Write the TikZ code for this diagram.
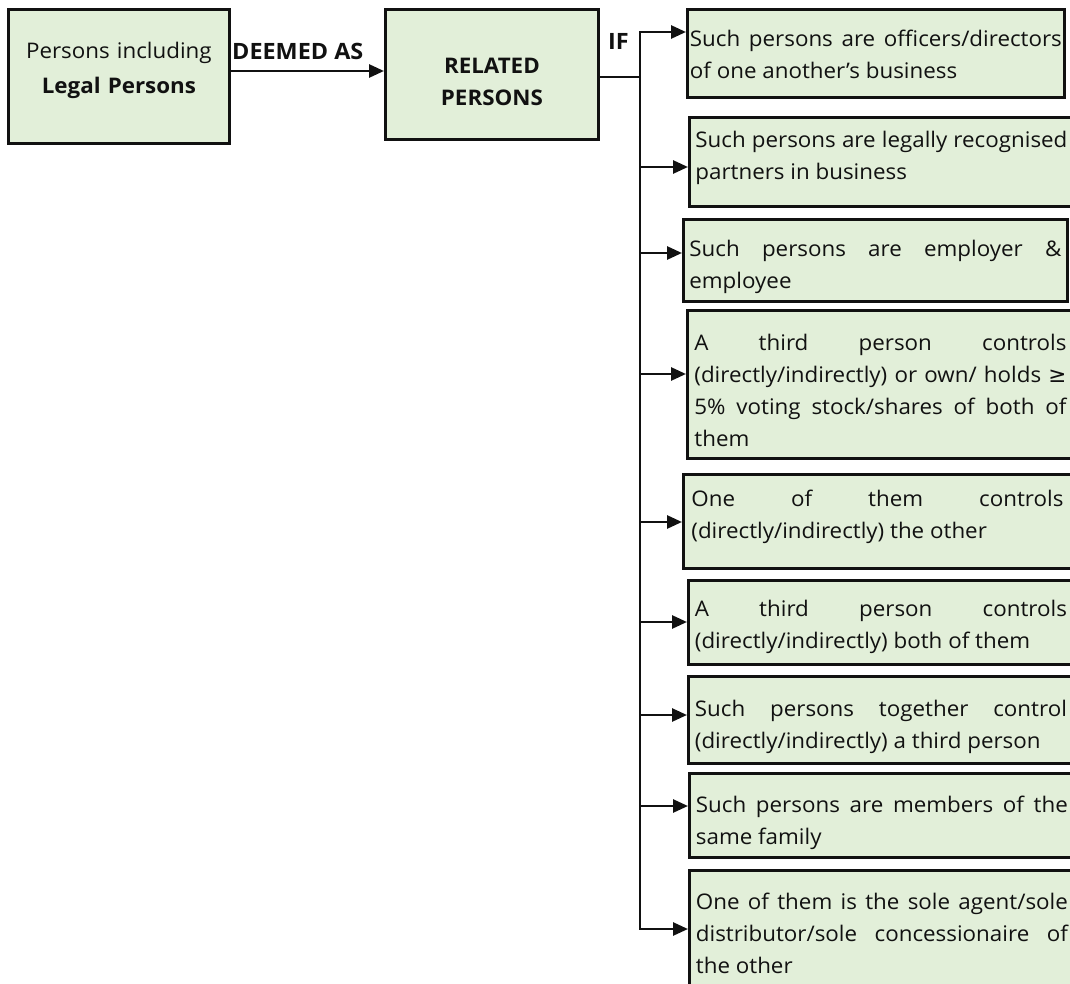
\documentclass[tikz,border=0pt]{standalone}
\usepackage{fontspec}
\setmainfont{Open Sans}[FakeStretch=1.04]
\newfontfamily\symfont{DejaVu Sans}
\usetikzlibrary{arrows.meta}
\definecolor{boxfill}{HTML}{E2EFD9}
\definecolor{ink}{HTML}{111111}
\newlength\rtw
\setlength\rtw{372pt}
% one justified line of a condition box
\newcommand\jline[1]{\makebox[\rtw][s]{#1}}

\begin{document}
\begin{tikzpicture}[x=1pt,y=-1pt,
  box/.style={draw=ink, line width=2.8pt, fill=boxfill, inner sep=0pt,
              anchor=north west, text=ink},
  headbox/.style={box, align=center, font=\fontsize{21.5}{32}\selectfont},
  rbox/.style={box, text width=\rtw, align=justify, inner xsep=0pt, inner ysep=0pt,
               font=\fontsize{21.5}{32}\selectfont},
  conn/.style={draw=ink, line width=2.7pt},
  tip/.tip={Triangle[length=15pt,width=13pt]},
  arr/.style={conn, -tip},
  lbl/.style={font=\fontsize{22.5}{25}\selectfont\bfseries, inner sep=0pt, text=ink}
]
\useasboundingbox (0,0) rectangle (1070,984);
\clip (0,0) rectangle (1070,984);

% source and target of the definition
\node[headbox, text width=221pt, text height=49pt, text depth=85pt,
      font=\fontsize{21.5}{35}\selectfont] (pl) at (7,8)
  {Persons including\\\textbf{Legal Persons}};
\node[headbox, text width=213pt, text height=64pt, text depth=66pt] (rel) at (384,8)
  {\textbf{RELATED}\\\textbf{PERSONS}};

\coordinate (da) at (0,71);
\draw[arr] (pl.east |- da) -- (rel.west |- da);
\node[lbl, anchor=base west] (deem) at (232,60) {DEEMED AS};

% condition boxes
\node[rbox, minimum width=377pt, text height=37pt, text depth=51pt] (b3) at (686,8)
  {\jline{Such persons are officers/directors}\\of one another’s business};
\node[rbox, minimum width=384pt, text height=30pt, text depth=59pt] (b4) at (688,116)
  {\jline{Such persons are legally recognised}\\partners in business};
\node[rbox, minimum width=384pt, text height=37pt, text depth=45pt] (b5) at (682,218)
  {\jline{Such persons are employer \&}\\employee};
\node[rbox, minimum width=386pt, text height=40pt, text depth=108pt] (b6) at (686,309)
  {\jline{A third person controls}\\\jline{(directly/indirectly) or own/ holds {\symfont ≥}}\\\jline{5\% voting stock/shares of both of}\\them};
\node[rbox, minimum width=388pt, text height=32pt, text depth=62pt] (b7) at (682,473)
  {\jline{One of them controls}\\(directly/indirectly) the other};
\node[rbox, minimum width=385pt, text height=36pt, text depth=48pt] (b8) at (687,579)
  {\jline{A third person controls}\\(directly/indirectly) both of them};
\node[rbox, minimum width=385pt, text height=40pt, text depth=47pt] (b9) at (687,675)
  {\jline{Such persons together control}\\(directly/indirectly) a third person};
\node[rbox, minimum width=385pt, text height=39pt, text depth=45pt] (b10) at (688,772)
  {\jline{Such persons are members of the}\\same family};
\node[rbox, minimum width=385pt, text height=39pt, text depth=140pt] (b11) at (688,869)
  {\jline{One of them is the sole agent/sole}\\\jline{distributor/sole concessionaire of}\\the other};

% branching connector
\coordinate (jn) at (640,77);
\coordinate (t3) at (640,32);
\coordinate (t4) at (640,167);
\coordinate (t5) at (640,253);
\coordinate (t6) at (640,374);
\coordinate (t7) at (640,522);
\coordinate (t8) at (640,622);
\coordinate (t9) at (640,715);
\coordinate (t10) at (640,806);
\coordinate (t11) at (640,929);

\draw[conn] (rel.east |- jn) -- (jn);
\draw[conn, tip-tip] (b11.west |- t11) -- (t11) -- (t3) -- (b3.west |- t3);
\foreach \k in {4,...,10}
  \draw[arr] (t\k) -- (b\k.west |- t\k);

\node[lbl, anchor=base west] (iflbl) at (608,50) {IF};
\end{tikzpicture}
\end{document}
